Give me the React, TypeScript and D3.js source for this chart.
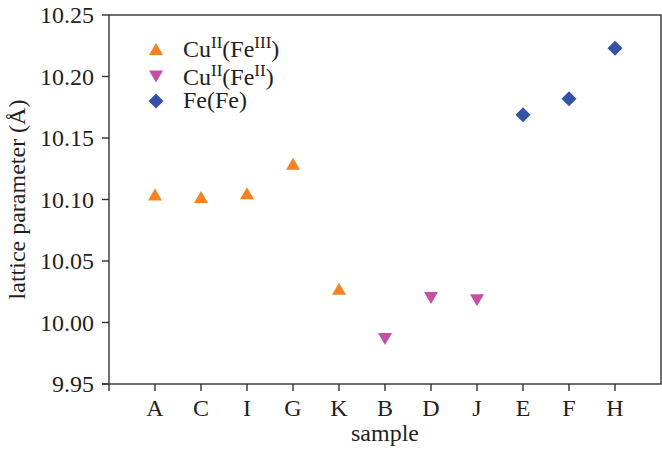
import React from "react";
import * as d3 from "d3";

const categories = ["A", "C", "I", "G", "K", "B", "D", "J", "E", "F", "H"];
const cuFe3Samples = ["A", "C", "I", "G", "K"];
const cuFe3Values = [10.104, 10.102, 10.105, 10.129, 10.0275];
const cuFe2Samples = ["B", "D", "J"];
const cuFe2Values = [9.9865, 10.02, 10.018];
const feFeSamples = ["E", "F", "H"];
const feFeValues = [10.169, 10.182, 10.223];
const yTicks = [9.95, 10.0, 10.05, 10.1, 10.15, 10.2, 10.25];

const W = 662;
const H = 450;
const left = 109;
const right = 661;
const top = 15;
const bottom = 384;
const FONT = "Liberation Serif, Times New Roman, serif";
const ORANGE = "#f5821f";
const PURPLE = "#c250a8";
const BLUE = "#3452a6";
const AX = "#333";
const TXT = "#231f20";
const FS = 24;
const SUP = 17;

const up = "M0,-6L7,6L-7,6Z";
const down = "M0,6L7,-6L-7,-6Z";
const diamond = "M0,-7.5L7.5,0L0,7.5L-7.5,0Z";

const tstyle: React.CSSProperties = { fontFamily: FONT, fontSize: FS, fill: TXT };

export default function App() {
  const x = d3.scalePoint<string>().domain(categories).range([left, right]).padding(1);
  const y = d3.scaleLinear().domain([9.95, 10.25]).range([bottom, top]);

  const series = [
    { s: cuFe3Samples, v: cuFe3Values, path: up, color: ORANGE },
    { s: cuFe2Samples, v: cuFe2Values, path: down, color: PURPLE },
    { s: feFeSamples, v: feFeValues, path: diamond, color: BLUE },
  ];

  const legendX = 156;
  const textX = 183;
  const legendRows = [
    { y: 49, path: up, color: ORANGE, sup1: "II", mid: "(Fe", sup2: "III", end: ")" },
    { y: 76.5, path: down, color: PURPLE, sup1: "II", mid: "(Fe", sup2: "II", end: ")" },
  ];

  return (
    <svg width={W} height={H} style={{ position: "absolute", left: 0, top: 0, background: "#fff" }}>
      <rect x={0} y={0} width={W} height={H} fill="#fff" />
      <rect x={left} y={top} width={right - left} height={bottom - top} fill="none" stroke={AX} strokeWidth={1.4} />
      {yTicks.map((t) => (
        <g key={t}>
          <line x1={left - 7} x2={left} y1={y(t)} y2={y(t)} stroke={AX} strokeWidth={1.4} />
          <text x={left - 15} y={y(t)} dy="0.35em" textAnchor="end" style={tstyle}>
            {t.toFixed(2)}
          </text>
        </g>
      ))}
      {categories.map((c) => (
        <g key={c}>
          <line x1={x(c)} x2={x(c)} y1={bottom} y2={bottom + 7} stroke={AX} strokeWidth={1.4} />
          <text x={x(c)} y={416} textAnchor="middle" style={tstyle}>
            {c}
          </text>
        </g>
      ))}
      <line x1={left - 7} x2={left} y1={bottom} y2={bottom} stroke={AX} strokeWidth={1.4} />
      <line x1={left} x2={left} y1={bottom} y2={bottom + 7} stroke={AX} strokeWidth={1.4} />
      <text x={(left + right) / 2} y={441} textAnchor="middle" style={tstyle}>
        sample
      </text>
      <text transform={`translate(25, ${(top + bottom) / 2}) rotate(-90)`} textAnchor="middle" style={tstyle}>
        lattice parameter (Å)
      </text>
      {series.map((ser, i) =>
        ser.s.map((c, j) => (
          <path key={`${i}-${c}`} d={ser.path} transform={`translate(${x(c)},${y(ser.v[j])})`} fill={ser.color} />
        ))
      )}
      {legendRows.map((r, i) => (
        <g key={i}>
          <path d={r.path} transform={`translate(${legendX},${r.y})`} fill={r.color} />
          <text x={textX} y={r.y + 8} style={tstyle}>
            Cu
            <tspan dy={-9} style={{ fontSize: SUP }}>{r.sup1}</tspan>
            <tspan dy={9}>{r.mid}</tspan>
            <tspan dy={-9} style={{ fontSize: SUP }}>{r.sup2}</tspan>
            <tspan dy={9}>{r.end}</tspan>
          </text>
        </g>
      ))}
      <path d={diamond} transform={`translate(${legendX},101)`} fill={BLUE} />
      <text x={textX} y={108} style={tstyle}>
        Fe(Fe)
      </text>
    </svg>
  );
}
